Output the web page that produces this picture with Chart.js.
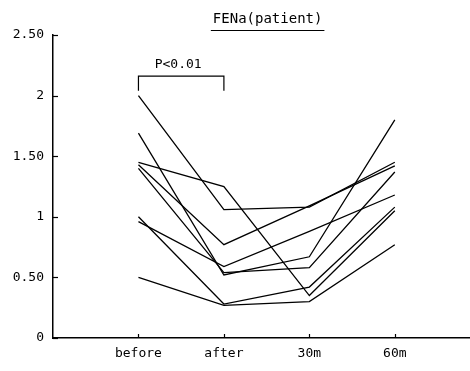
<!DOCTYPE html>
<html>
<head>
<meta charset="utf-8">
<script src="https://cdn.jsdelivr.net/npm/chart.js@4/dist/chart.umd.min.js"></script>
<style>
  html, body { margin: 0; padding: 0; background: #fff; }
  #wrap { width: 470px; height: 371px; }
</style>
</head>
<body>
<div id="wrap"><canvas id="c" width="470" height="371"></canvas></div>
<script>
const categories = ['before', 'after', '30m', '60m'];
const yTickValues = [0, 0.5, 1, 1.5, 2, 2.5];
const yTickLabels = ['0', '0.50', '1', '1.50', '2', '2.50'];
const titleText = 'FENa(patient)';
const pText = 'P<0.01';

const s1 = [2.00, 1.06, 1.08, 1.45];
const s2 = [1.45, 1.25, 0.35, 1.05];
const s3 = [1.43, 0.77, 1.09, 1.42];
const s4 = [1.69, 0.52, 0.67, 1.80];
const s5 = [1.40, 0.54, 0.58, 1.37];
const s6 = [0.96, 0.59, 0.88, 1.18];
const s7 = [1.00, 0.28, 0.42, 1.08];
const s8 = [0.50, 0.27, 0.30, 0.77];
const allSeries = [s1, s2, s3, s4, s5, s6, s7, s8];

const FONT = '"DejaVu Sans Mono", "Liberation Mono", monospace';

const datasets = allSeries.map((s, i) => ({
  label: 'patient ' + (i + 1),
  data: s.map((v, j) => ({ x: j + 1, y: v })),
  borderColor: '#000',
  borderWidth: 1.3,
  pointRadius: 0,
  tension: 0,
  fill: false
}));

const decor = {
  id: 'decor',
  afterDraw(chart) {
    const ctx = chart.ctx;
    const xs = chart.scales.x, ys = chart.scales.y;
    const area = chart.chartArea;
    ctx.save();
    ctx.strokeStyle = '#000';
    ctx.fillStyle = '#000';
    ctx.lineWidth = 1.2;
    // inner tick marks
    yTickValues.forEach(v => {
      const y = Math.round(ys.getPixelForValue(v)) + 0.5;
      ctx.beginPath(); ctx.moveTo(area.left, y); ctx.lineTo(area.left + 5, y); ctx.stroke();
    });
    categories.forEach((c, i) => {
      const x = Math.round(xs.getPixelForValue(i + 1)) + 0.5;
      ctx.beginPath(); ctx.moveTo(x, area.bottom); ctx.lineTo(x, area.bottom - 4); ctx.stroke();
    });
    // significance bracket
    const x1 = xs.getPixelForValue(1), x2 = xs.getPixelForValue(2);
    const yb = ys.getPixelForValue(2.16), yl = ys.getPixelForValue(2.04);
    ctx.beginPath();
    ctx.moveTo(x1, yl); ctx.lineTo(x1, yb); ctx.lineTo(x2, yb); ctx.lineTo(x2, yl);
    ctx.stroke();
    ctx.font = '13px ' + FONT;
    ctx.textAlign = 'center';
    ctx.textBaseline = 'alphabetic';
    ctx.fillText(pText, (x1 + x2) / 2 - 3, yb - 8);
    // title with underline
    const tx = xs.getPixelForValue(2.5) + 1;
    ctx.font = '14px ' + FONT;
    ctx.fillText(titleText, tx, 23);
    const w = ctx.measureText(titleText).width;
    ctx.beginPath(); ctx.moveTo(tx - w / 2 - 2, 30.5); ctx.lineTo(tx + w / 2 + 2, 30.5); ctx.stroke();
    ctx.restore();
  }
};

new Chart(document.getElementById('c'), {
  type: 'line',
  data: { datasets },
  options: {
    responsive: false,
    animation: false,
    layout: { padding: { top: 35, left: 0, right: 0, bottom: 0 } },
    plugins: { legend: { display: false }, title: { display: false }, tooltip: { enabled: false } },
    scales: {
      x: {
        type: 'linear',
        min: 0,
        max: 4.88,
        afterBuildTicks: s => { s.ticks = categories.map((c, i) => ({ value: i + 1 })); },
        afterFit: s => { s.height = 33; },
        ticks: {
          callback: v => categories[v - 1] || '',
          color: '#000',
          font: { family: FONT, size: 13 },
          padding: 8,
          maxRotation: 0,
          autoSkip: false
        },
        grid: { display: false, drawTicks: false },
        border: { display: true, color: '#000', width: 1.5 }
      },
      y: {
        min: 0,
        max: 2.5,
        afterBuildTicks: s => { s.ticks = yTickValues.map(v => ({ value: v })); },
        afterFit: s => { s.width = 53; },
        ticks: {
          callback: v => { const i = yTickValues.indexOf(v); return i >= 0 ? yTickLabels[i] : ''; },
          color: '#000',
          font: { family: FONT, size: 13 },
          padding: 9
        },
        grid: { display: false, drawTicks: false },
        border: { display: true, color: '#000', width: 1.5 }
      }
    }
  },
  plugins: [decor]
});
</script>
</body>
</html>
